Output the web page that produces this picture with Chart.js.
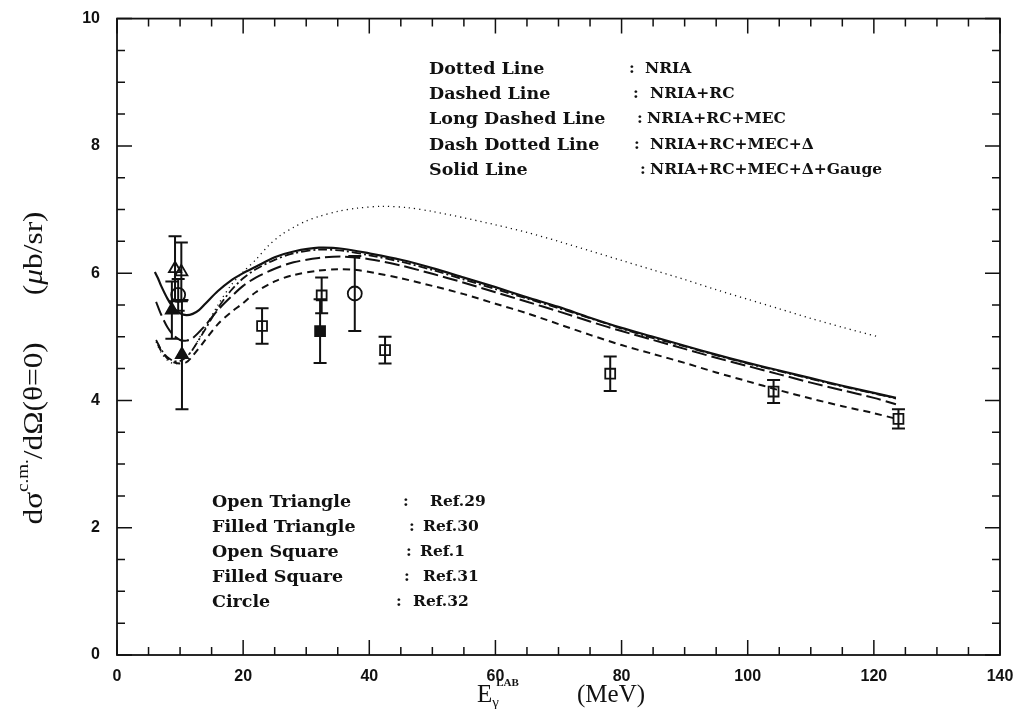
<!DOCTYPE html>
<html>
<head>
<meta charset="utf-8">
<script src="https://cdn.jsdelivr.net/npm/chart.js@4"></script>
<style>
  body { margin: 0; background: #fff; }
  canvas { display: block; }
</style>
</head>
<body>
<canvas id="chart" width="1018" height="709"></canvas>
<script>
// --- Data ---

// axis ticks
const xTicks = [0, 20, 40, 60, 80, 100, 120, 140];
const yTicks = [0, 2, 4, 6, 8, 10];

// theory curves (E_gamma in MeV, dsigma/dOmega in mub/sr)
const eNria = [6.2, 7, 8, 9, 10, 11, 12, 14, 16, 18, 20, 22, 24, 26, 28, 30, 32, 35, 38, 42, 46, 50, 55, 60, 65, 70, 75, 80, 85, 90, 95, 100, 105, 110, 115, 120.7];
const nria = [4.92, 4.75, 4.63, 4.58, 4.6, 4.68, 4.8, 5.15, 5.5, 5.8, 6.02, 6.21, 6.43, 6.6, 6.72, 6.82, 6.89, 6.97, 7.02, 7.05, 7.03, 6.97, 6.87, 6.76, 6.64, 6.5, 6.35, 6.2, 6.05, 5.9, 5.74, 5.59, 5.44, 5.29, 5.15, 5.0];

const eRc = [6.5, 7, 8, 9, 10, 11, 12, 14, 16, 18, 20, 22, 25, 28, 32, 35, 38, 41, 45, 50, 55, 60, 65, 70, 75, 80, 85, 90, 95, 100, 105, 110, 115, 120, 123.2];
const rc = [4.88, 4.78, 4.66, 4.6, 4.58, 4.6, 4.7, 4.95, 5.2, 5.38, 5.53, 5.7, 5.87, 5.97, 6.04, 6.06, 6.05, 6.0, 5.92, 5.8, 5.67, 5.52, 5.37, 5.2, 5.03, 4.87, 4.73, 4.59, 4.44, 4.3, 4.16, 4.03, 3.91, 3.8, 3.72];

const eMec = [6.2, 7, 8, 9, 10, 11, 12, 14, 16, 18, 20, 22, 25, 28, 32, 36, 40, 45, 50, 55, 60, 65, 70, 75, 80, 85, 90, 95, 100, 105, 110, 115, 120, 123.5];
const mec = [5.55, 5.35, 5.15, 5.02, 4.95, 4.94, 4.98, 5.18, 5.42, 5.62, 5.8, 5.93, 6.07, 6.17, 6.24, 6.26, 6.22, 6.12, 5.99, 5.85, 5.7, 5.55, 5.4, 5.24, 5.09, 4.95, 4.81, 4.67, 4.54, 4.41, 4.28, 4.16, 4.04, 3.94];

const eDelta = [6.2, 7, 8, 9, 10, 11, 12, 14, 16, 18, 20, 22, 25, 28, 32, 36, 40, 45, 50, 55, 60, 65, 70, 75, 80, 85, 90, 95, 100, 105, 110, 115, 120, 123.5];
const delta = [4.95, 4.8, 4.68, 4.62, 4.62, 4.68, 4.8, 5.12, 5.45, 5.72, 5.92, 6.06, 6.21, 6.31, 6.37, 6.35, 6.28, 6.18, 6.05, 5.9, 5.75, 5.6, 5.45, 5.29, 5.13, 4.98, 4.85, 4.71, 4.58, 4.46, 4.34, 4.22, 4.11, 4.03];

const eGauge = [6, 6.5, 7, 8, 9, 10, 11, 12, 13, 14, 16, 18, 20, 22, 25, 28, 32, 36, 40, 45, 50, 55, 60, 65, 70, 75, 80, 85, 90, 95, 100, 105, 110, 115, 120, 123.5];
const gauge = [6.02, 5.92, 5.8, 5.6, 5.45, 5.37, 5.34, 5.36, 5.42, 5.52, 5.72, 5.88, 6.0, 6.1, 6.25, 6.34, 6.4, 6.38, 6.31, 6.21, 6.08, 5.93, 5.78, 5.62, 5.47, 5.3, 5.14, 5.0, 4.86, 4.72, 4.59, 4.47, 4.35, 4.23, 4.12, 4.04];

// experimental points: energy, value, error
const ref29E = [9.2, 10.2];
const ref29V = [6.07, 6.02];
const ref29Err = [0.51, 0.46];

const ref30E = [8.7, 10.3];
const ref30V = [5.42, 4.72];
const ref30Err = [0.45, 0.86];

const ref1E = [23.0, 32.45, 42.5, 78.2, 104.1, 123.9];
const ref1V = [5.17, 5.65, 4.79, 4.42, 4.14, 3.71];
const ref1Err = [0.28, 0.28, 0.21, 0.27, 0.18, 0.15];

const ref31E = [32.2];
const ref31V = [5.09];
const ref31Err = [0.5];

const ref32E = [9.7, 37.7];
const ref32V = [5.66, 5.68];
const ref32Err = [0.25, 0.59];

// legend text inside the plot
const curveNames = ['Dotted Line', 'Dashed Line', 'Long Dashed Line', 'Dash Dotted Line', 'Solid Line'];
const curveLabels = ['NRIA', 'NRIA+RC', 'NRIA+RC+MEC', 'NRIA+RC+MEC+\u0394', 'NRIA+RC+MEC+\u0394+Gauge'];
const pointNames = ['Open Triangle', 'Filled Triangle', 'Open Square', 'Filled Square', 'Circle'];
const pointLabels = ['Ref.29', 'Ref.30', 'Ref.1', 'Ref.31', 'Ref.32'];

// --- Layout of the text blocks (pixels) ---
const ink = '#111';
const topBlock = { x: 429, y: [69, 94, 119, 145, 170], colonX: [629, 633, 637, 634, 640], valX: [645, 650, 647, 650, 650] };
const botBlock = { x: 212, y: [502, 527, 552, 577, 602], colonX: [403, 409, 406, 404, 396], valX: [430, 423, 420, 423, 413] };
const nameFont = 'bold 17.5px "DejaVu Serif"';
const valueFont = 'bold 15.5px "DejaVu Serif"';

function pts(xs, ys) {
    return xs.map((x, i) => ({ x: x, y: ys[i] }));
}

function curve(xs, ys, width, dash) {
    return {
        data: pts(xs, ys),
        showLine: true,
        borderColor: ink,
        borderWidth: width,
        borderDash: dash,
        pointRadius: 0,
        tension: 0.3,
        fill: false
    };
}

function marker(xs, ys, errs, style, radius, filled) {
    return {
        data: pts(xs, ys),
        errs: errs,
        showLine: false,
        pointStyle: style,
        pointRadius: radius,
        pointBorderColor: ink,
        pointBackgroundColor: filled ? ink : 'rgba(0,0,0,0)',
        pointBorderWidth: 1.8
    };
}

// draw a row of text pieces, each with its own font and vertical shift
function drawRuns(c, runs, x, y) {
    runs.forEach(r => {
        c.font = r.font;
        c.fillText(r.text, x + (r.dx || 0), y + (r.dy || 0));
        if (!r.overlay) x += c.measureText(r.text).width;
    });
}

function runsWidth(c, runs) {
    let w = 0;
    runs.forEach(r => {
        c.font = r.font;
        if (!r.overlay) w += c.measureText(r.text).width;
    });
    return w;
}

const decorPlugin = {
    id: 'decor',
    beforeDatasetsDraw(chart) {
        const c = chart.ctx;
        const xs = chart.scales.x;
        const ys = chart.scales.y;
        // error bars
        c.save();
        c.strokeStyle = ink;
        c.lineWidth = 2;
        chart.data.datasets.forEach(ds => {
            if (!ds.errs) return;
            ds.data.forEach((p, i) => {
                const px = xs.getPixelForValue(p.x);
                const top = ys.getPixelForValue(p.y + ds.errs[i]);
                const bot = ys.getPixelForValue(p.y - ds.errs[i]);
                c.beginPath();
                c.moveTo(px, top); c.lineTo(px, bot);
                c.moveTo(px - 6.5, top); c.lineTo(px + 6.5, top);
                c.moveTo(px - 6.5, bot); c.lineTo(px + 6.5, bot);
                c.stroke();
            });
        });
        c.restore();
    },
    afterDraw(chart) {
        const c = chart.ctx;
        const a = chart.chartArea;
        const xs = chart.scales.x;
        const ys = chart.scales.y;
        c.save();
        c.strokeStyle = ink;
        c.fillStyle = ink;

        // frame
        c.lineWidth = 1.8;
        c.strokeRect(a.left, a.top, a.right - a.left, a.bottom - a.top);

        // inward ticks on all four sides
        c.lineWidth = 1.5;
        c.beginPath();
        for (let v = 0; v <= 140; v += 5) {
            const px = xs.getPixelForValue(v);
            const len = v % 20 === 0 ? 15 : 8;
            c.moveTo(px, a.bottom); c.lineTo(px, a.bottom - len);
            c.moveTo(px, a.top); c.lineTo(px, a.top + len);
        }
        for (let v = 0; v <= 10; v += 0.5) {
            const py = ys.getPixelForValue(v);
            const len = Math.abs(v % 2) < 1e-9 ? 15 : 8;
            c.moveTo(a.left, py); c.lineTo(a.left + len, py);
            c.moveTo(a.right, py); c.lineTo(a.right - len, py);
        }
        c.stroke();

        // legend text blocks
        c.textBaseline = 'middle';
        c.textAlign = 'left';
        curveNames.forEach((t, i) => {
            c.font = nameFont;
            c.fillText(t, topBlock.x, topBlock.y[i]);
            c.font = valueFont;
            c.fillText(':', topBlock.colonX[i], topBlock.y[i]);
            c.fillText(curveLabels[i], topBlock.valX[i], topBlock.y[i]);
        });
        pointNames.forEach((t, i) => {
            c.font = nameFont;
            c.fillText(t, botBlock.x, botBlock.y[i]);
            c.font = valueFont;
            c.fillText(':', botBlock.colonX[i], botBlock.y[i]);
            c.fillText(pointLabels[i], botBlock.valX[i], botBlock.y[i]);
        });

        // y axis title
        c.textBaseline = 'alphabetic';
        const serif = '"Liberation Serif"';
        const yRuns = [
            { text: 'd\u03c3', font: '28px ' + serif },
            { text: 'c.m.', font: '17px ' + serif, dy: -14 },
            { text: '/d\u03a9(\u03b8=0)', font: '28px ' + serif },
            { text: '\u2003\u2002', font: '28px ' + serif },
            { text: '(', font: '28px ' + serif },
            { text: '\u03bc', font: 'italic 28px ' + serif },
            { text: 'b/sr)', font: '28px ' + serif }
        ];
        c.save();
        c.translate(42, 368);
        c.rotate(-Math.PI / 2);
        c.scale(1.12, 1);
        drawRuns(c, yRuns, -runsWidth(c, yRuns) / 2, 0);
        c.restore();

        // x axis title
        drawRuns(c, [
            { text: 'E', font: '25px ' + serif },
            { text: 'LAB', font: 'bold 11px ' + serif, dy: -16, dx: 4, overlay: true },
            { text: '\u03b3', font: '15px ' + serif, dy: 5 }
        ], 477, 702);
        c.font = '25px ' + serif;
        c.fillText('(MeV)', 577, 702);

        c.restore();
    }
};

const ctx = document.getElementById('chart').getContext('2d');

new Chart(ctx, {
    type: 'scatter',
    data: {
        datasets: [
            curve(eNria, nria, 1.3, [1.2, 4]),
            curve(eRc, rc, 2, [7, 5]),
            curve(eMec, mec, 2, [15, 5]),
            curve(eDelta, delta, 1.8, [9, 3, 2, 3]),
            curve(eGauge, gauge, 2.2, []),
            marker(ref29E, ref29V, ref29Err, 'triangle', 7, false),
            marker(ref30E, ref30V, ref30Err, 'triangle', 7, true),
            marker(ref1E, ref1V, ref1Err, 'rect', 7, false),
            marker(ref31E, ref31V, ref31Err, 'rect', 7, true),
            marker(ref32E, ref32V, ref32Err, 'circle', 7, false)
        ]
    },
    options: {
        responsive: false,
        animation: false,
        layout: { padding: { top: 15, right: 18, left: 0, bottom: 0 } },
        plugins: {
            legend: { display: false },
            tooltip: { enabled: false }
        },
        scales: {
            x: {
                type: 'linear',
                min: 0,
                max: 140,
                grid: { display: false },
                border: { display: false },
                afterBuildTicks: s => { s.ticks = xTicks.map(v => ({ value: v })); },
                afterFit: s => { s.height = 54; },
                ticks: {
                    color: ink,
                    font: { family: '"Liberation Sans"', weight: 'bold', size: 16 },
                    padding: 4,
                    maxRotation: 0,
                    autoSkip: false
                }
            },
            y: {
                type: 'linear',
                min: 0,
                max: 10,
                grid: { display: false },
                border: { display: false },
                afterBuildTicks: s => { s.ticks = yTicks.map(v => ({ value: v })); },
                afterFit: s => { s.width = 117; },
                ticks: {
                    color: ink,
                    font: { family: '"Liberation Sans"', weight: 'bold', size: 16 },
                    padding: 9,
                    autoSkip: false
                }
            }
        }
    },
    plugins: [decorPlugin]
});
</script>
</body>
</html>
